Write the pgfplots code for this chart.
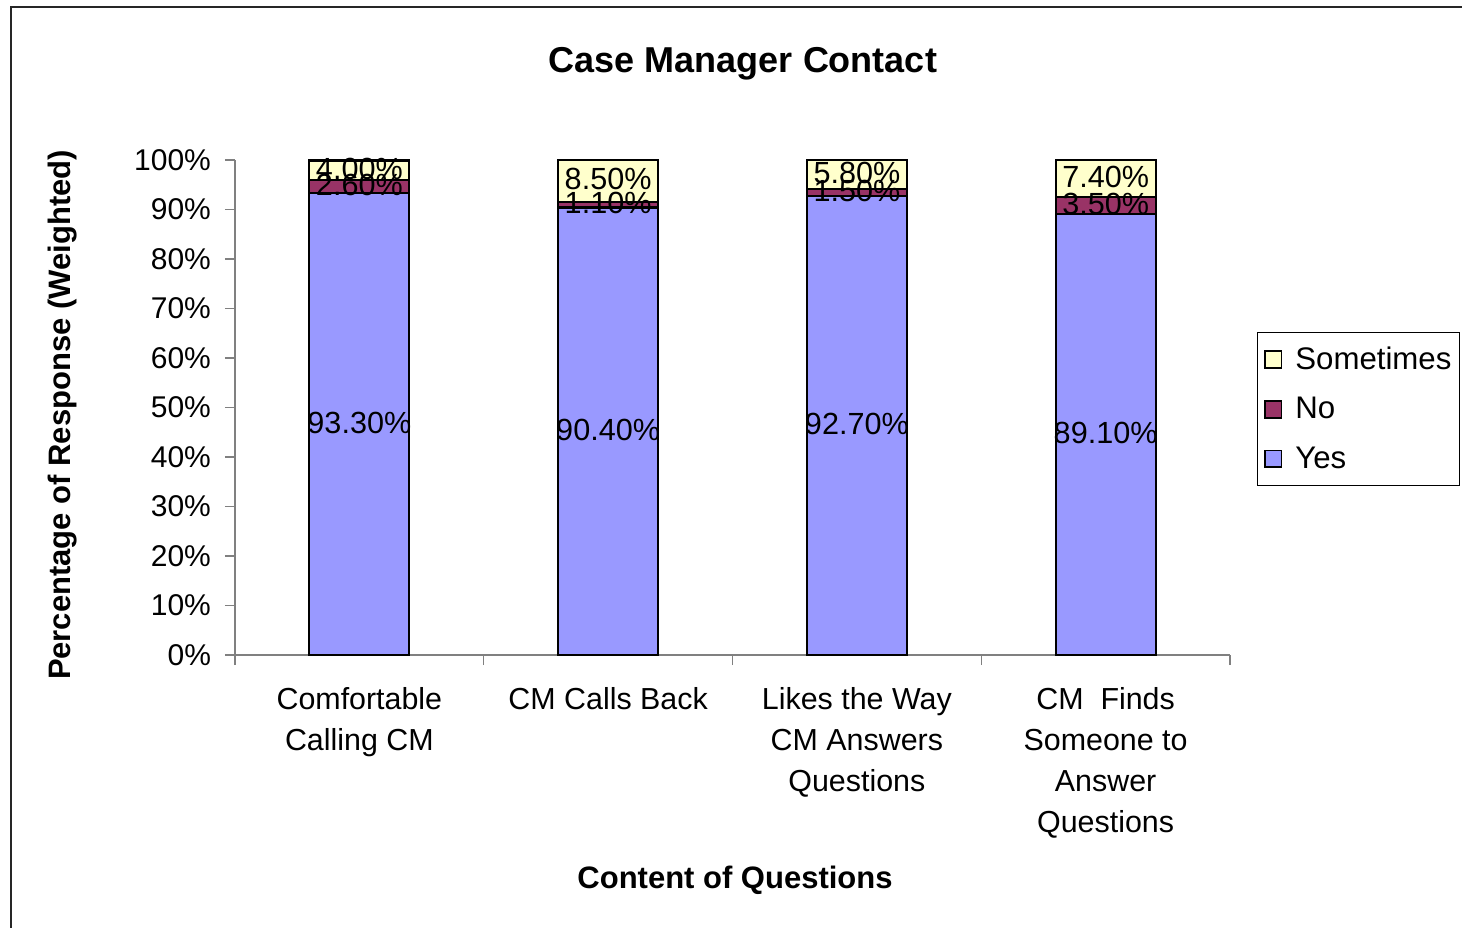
\documentclass[border=0pt]{standalone}
\usepackage{fontspec}
\setmainfont{Liberation Sans}
\usepackage{pgfplots}
\usepackage{pgfplotstable}
\pgfplotsset{compat=1.18}
\pgfplotsset{/pgf/number format/assume math mode=true}
\definecolor{yescol}{HTML}{9999FF}
\definecolor{nocol}{HTML}{993366}
\definecolor{somecol}{HTML}{FFFFCC}
\pgfplotstableread{
x yes no some
0 93.3 2.6 4.0
1 90.4 1.1 8.5
2 92.7 1.5 5.8
3 89.1 3.5 7.4
}\data
\begin{document}
\begin{tikzpicture}
\path[use as bounding box] (0,0) rectangle (731pt,463.5pt);
\draw[line width=0.9pt, black!85] (5.5pt,-2pt) -- (5.5pt,460pt) -- (733pt,460pt);
\pgfplotsset{base/.style={
  at={(117.5pt,136pt)}, anchor=south west,
  width=497.5pt, height=247.5pt, scale only axis,
  xmin=-0.5, xmax=3.5, ymin=0, ymax=100}}
\begin{axis}[base,
  ybar stacked, bar width=50pt,
  axis lines*=left,
  axis line style={gray, line width=0.6pt},
  tick align=outside,
  ytick={0,10,...,100},
  yticklabel={\pgfmathprintnumber{\tick}\%},
  yticklabel style={font=\fontsize{15}{18}\selectfont, xshift=-3.5pt},
  ytick style={gray, line width=0.6pt},
  major tick length=5pt,
  xtick={0,1,2,3},
  xticklabels={Comfortable\\Calling CM, CM Calls Back, Likes the Way\\CM Answers\\Questions, CM\ \ Finds\\Someone to\\Answer\\Questions},
  xticklabel style={align=center, font=\fontsize{15.2}{20.5}\selectfont, anchor=north, yshift=-7.5pt},
  x tick style={draw=none},
  minor xtick={-0.5,0.5,1.5,2.5,3.5},
  minor x tick style={draw=gray, line width=0.6pt},
  minor tick length=5pt,
  reverse legend,
  legend style={at={(1.2312,0.6525)}, anchor=north east, draw=black, line width=0.6pt,
    font=\fontsize{15.6}{18}\selectfont, row sep=8.5pt, inner xsep=3pt, inner ysep=5pt,
    nodes={inner xsep=1pt},
    /tikz/every odd column/.append style={column sep=5.5pt},
    /tikz/every even column/.append style={column sep=0pt}},
  legend cell align=left,
  legend image code/.code={\draw[#1, line width=0.9pt] (0pt,-4.2pt) rectangle (8.4pt,4.2pt);},
]
\addplot[fill=yescol, draw=black, line width=1.1pt] table[x=x, y=yes] {\data};
\addlegendentry{Yes}
\addplot[fill=nocol, draw=black, line width=1.1pt] table[x=x, y=no] {\data};
\addlegendentry{No}
\addplot[fill=somecol, draw=black, line width=1.1pt] table[x=x, y=some] {\data};
\addlegendentry{Sometimes}
\end{axis}
\begin{axis}[base, hide axis,
  nodes near coords={\pgfmathprintnumber[fixed,fixed zerofill,precision=2]{\pgfplotspointmeta}\%},
  nodes near coords align={center},
  every node near coord/.append style={font=\fontsize{15.3}{18}\selectfont, black, inner sep=0pt, yshift=0.8pt}]
\addplot[draw=none, mark=none, point meta=\thisrow{yes}] table[x=x, y expr=\thisrow{yes}/2] {\data};
\addplot[draw=none, mark=none, point meta=\thisrow{no}] table[x=x, y expr=\thisrow{yes}+\thisrow{no}/2] {\data};
\addplot[draw=none, mark=none, point meta=\thisrow{some}] table[x=x, y expr=\thisrow{yes}+\thisrow{no}+\thisrow{some}/2] {\data};
\end{axis}
\node[font=\bfseries\fontsize{18}{21}\selectfont] at (371.5pt,431.5pt) {Case Manager Contact};
\node[font=\bfseries\fontsize{15.5}{18}\selectfont] at (367.5pt,23.5pt) {Content of Questions};
\node[font=\bfseries\fontsize{15.5}{18}\selectfont, rotate=90] at (31.5pt,256pt) {Percentage of Response (Weighted)};
\end{tikzpicture}
\end{document}
